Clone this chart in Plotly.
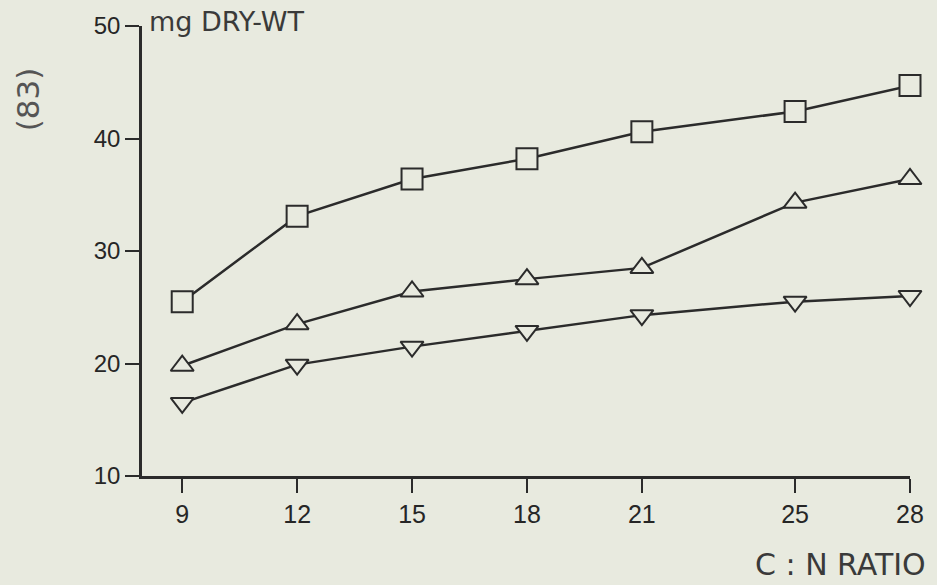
import plotly.graph_objects as go

# C:N ratio of the medium and dry weight (mg) for three treatments
cn_ratio = [9, 12, 15, 18, 21, 25, 28]
squares = [25.5, 33.1, 36.4, 38.2, 40.6, 42.4, 44.7]
tri_up = [19.8, 23.5, 26.4, 27.5, 28.5, 34.3, 36.4]
tri_down = [16.5, 19.9, 21.5, 22.9, 24.3, 25.5, 26.0]

y_ticks = [10, 20, 30, 40, 50]

PAPER = "#e8eadf"
INK = "#2b2b2b"

fig = go.Figure()

# hollow-looking markers: paper fill hides the joining line inside each symbol
for vals, sym, size in [
    (squares, "square", 21),
    (tri_up, "triangle-up", 20),
    (tri_down, "triangle-down", 20),
]:
    fig.add_trace(go.Scatter(
        x=cn_ratio, y=vals,
        mode="lines+markers",
        line=dict(color=INK, width=2.5),
        marker=dict(symbol=sym, size=size, color=PAPER,
                    line=dict(color=INK, width=2)),
        cliponaxis=False,
        showlegend=False,
    ))

fig.update_xaxes(
    range=[7.95, 28],
    tickmode="array", tickvals=cn_ratio,
    ticks="outside", ticklen=14, tickwidth=2, tickcolor=INK,
    showline=True, linewidth=2.5, linecolor=INK,
    showgrid=False, zeroline=False,
    tickfont=dict(family="Liberation Sans", size=25, color="#262626"),
)
fig.update_yaxes(
    range=[10, 50],
    tickmode="array", tickvals=y_ticks,
    ticks="outside", ticklen=14, tickwidth=2, tickcolor=INK,
    showline=True, linewidth=2.5, linecolor=INK,
    showgrid=False, zeroline=False,
    tickfont=dict(family="Liberation Sans", size=24, color="#262626"),
)

fig.add_annotation(
    text="mg DRY-WT", xref="paper", yref="paper",
    x=0.006, y=1.009, xanchor="left", yanchor="middle",
    showarrow=False,
    font=dict(family="DejaVu Sans", size=27, color="#3a3a3a"),
)
fig.add_annotation(
    text="C : N RATIO", xref="paper", yref="paper",
    x=1.024, y=-0.197, xanchor="right", yanchor="middle",
    showarrow=False,
    font=dict(family="DejaVu Sans", size=30, color="#3a3a3a"),
)
fig.add_annotation(
    text="(83)", xref="paper", yref="paper",
    x=-0.148, y=0.838, xanchor="center", yanchor="middle",
    textangle=-90, showarrow=False,
    font=dict(family="DejaVu Sans", size=31, color="#555555"),
)

fig.update_layout(
    width=937, height=585,
    margin=dict(l=142, r=27, t=24, b=109),
    paper_bgcolor=PAPER, plot_bgcolor=PAPER,
)

fig.write_html("out.html")
